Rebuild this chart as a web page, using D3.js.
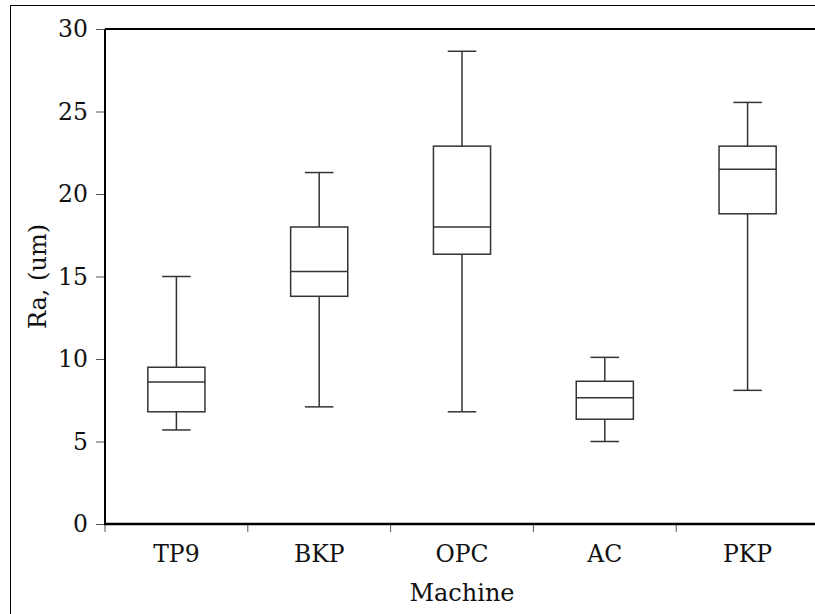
<!DOCTYPE html>
<html>
<head>
<meta charset="utf-8">
<script src="https://cdn.jsdelivr.net/npm/d3@7"></script>
<style>
  body { margin: 0; background: #fff; }
  svg { display: block; font-family: "DejaVu Serif", serif; }
</style>
</head>
<body>
<svg id="chart"></svg>
<script>
// Categories and box stats
const machines = ['TP9', 'BKP', 'OPC', 'AC', 'PKP'];
const whiskerLow  = [5.7, 7.1, 6.8, 5.0, 8.1];
const q1          = [6.8, 13.8, 16.35, 6.35, 18.8];
const median      = [8.6, 15.3, 18.0, 7.65, 21.5];
const q3          = [9.5, 18.0, 22.9, 8.65, 22.9];
const whiskerHigh = [15.0, 21.3, 28.65, 10.1, 25.55];
const yTicks = [0, 5, 10, 15, 20, 25, 30];

const WIDTH = 815, HEIGHT = 614;
const LEFT = 105, TOP = 29, BOTTOM = 524;
const BAND = 142.8;
const FONT = 23.5;

const svg = d3.select('svg#chart').attr('width', WIDTH).attr('height', HEIGHT);

// outer frame (runs off the right and bottom edges like the original)
svg.append('rect')
    .attr('x', 10.5).attr('y', 5.5)
    .attr('width', 900).attr('height', 700)
    .attr('fill', 'none').attr('stroke', '#000').attr('stroke-width', 1);

const x = d3.scaleBand().domain(machines).range([LEFT, LEFT + BAND * machines.length]);
const y = d3.scaleLinear().domain([0, 30]).range([BOTTOM, TOP]);

const boxes = machines.map((m, i) => ({
    m, lo: whiskerLow[i], q1: q1[i], med: median[i], q3: q3[i], hi: whiskerHigh[i]
}));

// y axis
const yAxis = svg.append('g')
    .attr('transform', `translate(${LEFT},0)`)
    .call(d3.axisLeft(y).tickValues(yTicks).tickSize(9).tickPadding(8));
yAxis.select('.domain').remove();
yAxis.selectAll('.tick line').attr('stroke', '#555');
yAxis.selectAll('.tick text').attr('font-size', FONT).attr('fill', '#111')
    .attr('font-family', '"DejaVu Serif", serif');

// x axis
const xAxis = svg.append('g')
    .attr('transform', `translate(0,${BOTTOM})`)
    .call(d3.axisBottom(x).tickSize(0).tickPadding(21));
xAxis.select('.domain').remove();
xAxis.selectAll('.tick text').attr('font-size', FONT).attr('fill', '#111')
    .attr('font-family', '"DejaVu Serif", serif');

// tick marks at band boundaries
svg.append('g').selectAll('line')
    .data(machines)
    .join('line')
    .attr('x1', d => x(d)).attr('x2', d => x(d))
    .attr('y1', BOTTOM).attr('y2', BOTTOM + 8)
    .attr('stroke', '#555').attr('stroke-width', 1);

// plot border lines: left, top, bottom
svg.append('line').attr('x1', LEFT).attr('x2', LEFT).attr('y1', TOP).attr('y2', BOTTOM)
    .attr('stroke', '#000').attr('stroke-width', 2);
svg.append('line').attr('x1', LEFT).attr('x2', WIDTH + 5).attr('y1', TOP).attr('y2', TOP)
    .attr('stroke', '#000').attr('stroke-width', 2);
svg.append('line').attr('x1', LEFT - 1).attr('x2', WIDTH + 5).attr('y1', BOTTOM).attr('y2', BOTTOM)
    .attr('stroke', '#000').attr('stroke-width', 2.5);

// boxes
const g = svg.append('g').selectAll('g').data(boxes).join('g');
const cx = d => x(d.m) + x.bandwidth() / 2;
const boxW = x.bandwidth() * 0.4;
const capW = x.bandwidth() * 0.2;

g.append('line')
    .attr('x1', cx).attr('x2', cx)
    .attr('y1', d => y(d.hi)).attr('y2', d => y(d.q3))
    .attr('stroke', '#333').attr('stroke-width', 1.5);
g.append('line')
    .attr('x1', cx).attr('x2', cx)
    .attr('y1', d => y(d.q1)).attr('y2', d => y(d.lo))
    .attr('stroke', '#333').attr('stroke-width', 1.5);
g.append('line')
    .attr('x1', d => cx(d) - capW / 2).attr('x2', d => cx(d) + capW / 2)
    .attr('y1', d => y(d.hi)).attr('y2', d => y(d.hi))
    .attr('stroke', '#333').attr('stroke-width', 1.5);
g.append('line')
    .attr('x1', d => cx(d) - capW / 2).attr('x2', d => cx(d) + capW / 2)
    .attr('y1', d => y(d.lo)).attr('y2', d => y(d.lo))
    .attr('stroke', '#333').attr('stroke-width', 1.5);
g.append('rect')
    .attr('x', d => cx(d) - boxW / 2)
    .attr('y', d => y(d.q3))
    .attr('width', boxW)
    .attr('height', d => y(d.q1) - y(d.q3))
    .attr('fill', 'none').attr('stroke', '#333').attr('stroke-width', 1.5);
g.append('line')
    .attr('x1', d => cx(d) - boxW / 2).attr('x2', d => cx(d) + boxW / 2)
    .attr('y1', d => y(d.med)).attr('y2', d => y(d.med))
    .attr('stroke', '#333').attr('stroke-width', 1.5);

// axis titles
svg.append('text')
    .attr('x', 462).attr('y', 601)
    .attr('text-anchor', 'middle')
    .attr('font-size', 24).attr('fill', '#111')
    .text('Machine');

svg.append('text')
    .attr('transform', `translate(46,${(TOP + BOTTOM) / 2}) rotate(-90)`)
    .attr('text-anchor', 'middle')
    .attr('font-size', 24).attr('fill', '#111')
    .text('Ra, (um)');
</script>
</body>
</html>
